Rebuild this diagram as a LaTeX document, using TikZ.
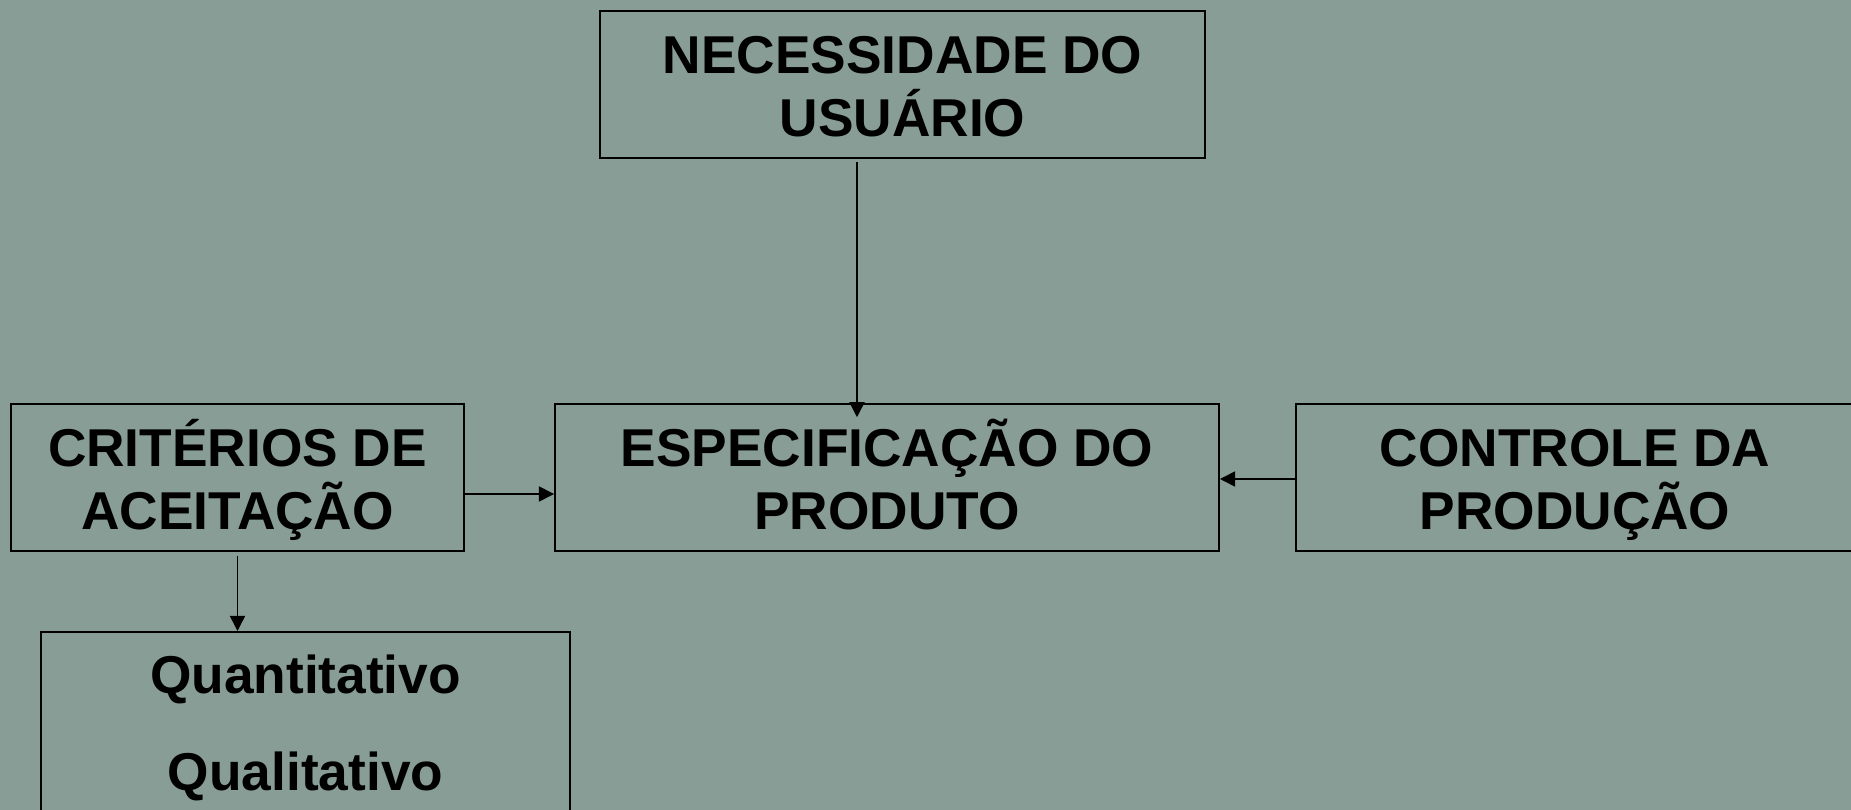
\documentclass[tikz,border=0pt]{standalone}
\usepackage{fontspec}
\setmainfont{Liberation Sans}
\usepackage{xcolor}
\usetikzlibrary{arrows.meta}

\definecolor{fundo}{RGB}{137,157,151}
% same height and depth on every line, so all boxes share baselines
\newcommand{\esteio}{\rule[-0.19em]{0pt}{1.16em}}

\begin{document}
\begin{tikzpicture}[x=0.01cm, y=-0.01cm, line width=0.45pt,
    caixa/.style={draw, minimum height=1.47cm, align=center, inner sep=0pt,
      font=\fontsize{15.15}{18}\selectfont\bfseries},
    rotulo/.style={font=\fontsize{15.15}{18}\selectfont\bfseries, inner sep=0pt},
    seta/.style={-{Triangle[length=4.3pt,width=4.3pt]}}]
      \useasboundingbox (0,0) rectangle (1851,810);
      \fill[fundo] (0,0) rectangle (1851,810);
      % caixas
      \node[caixa, minimum width=6.05cm] (nec) at (902.5,84.5) {\esteio NECESSIDADE DO\\\esteio USUÁRIO};
      \node[caixa, minimum width=4.53cm] (crit) at (237.5,477.5) {\esteio CRITÉRIOS DE\\\esteio ACEITAÇÃO};
      \node[caixa, minimum width=6.64cm] (espec) at (887,477.5) {\esteio ESPECIFICAÇÃO DO\\\esteio PRODUTO};
      \node[caixa, minimum width=5.58cm] (contr) at (1575,477.5) {\esteio CONTROLE DA\\\esteio PRODUÇÃO};
      \node[draw, minimum width=5.29cm, minimum height=2.2cm, anchor=north] (tipos) at (305.5,631) {};
      \node[rotulo, anchor=base] (quanti) at (305.5,694) {Quantitativo};
      \node[rotulo, anchor=base] (quali) at (305.5,791) {Qualitativo};
      % setas
      \coordinate (vtopo) at (857,162);
      \draw[seta] (vtopo) -- ([yshift=-4pt]vtopo |- espec.north);
      \draw[seta] (crit.east |- 0,494) -- (espec.west |- 0,494);
      \draw[seta] (contr.west |- 0,479) -- (espec.east |- 0,479);
      \draw[seta] ([yshift=-1.1pt]crit.south) -- (crit.south |- tipos.north);
\end{tikzpicture}
\end{document}
